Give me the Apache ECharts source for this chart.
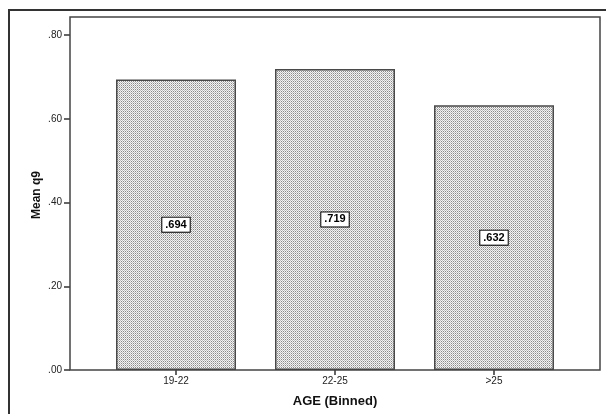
<!DOCTYPE html>
<html>
<head>
<meta charset="utf-8">
<script src="https://cdn.jsdelivr.net/npm/echarts@6/dist/echarts.min.js"></script>
<style>
html,body{margin:0;padding:0;background:#fff;}
#chart{width:606px;height:414px;}
</style>
</head>
<body>
<div id="chart"></div>
<script>
const categories = ['19-22', '22-25', '>25'];
const meanValues = [0.694, 0.719, 0.632];
const yTicks = [0, 0.2, 0.4, 0.6, 0.8];
const yTitle = 'Mean q9';
const xTitle = 'AGE (Binned)';

const FONT = 'Liberation Sans, Arial, sans-serif';

function makePattern() {
  const c = document.createElement('canvas');
  c.width = 2; c.height = 2;
  const ctx = c.getContext('2d');
  ctx.fillStyle = '#f4f4f4';
  ctx.fillRect(0, 0, 2, 2);
  ctx.fillStyle = '#bdbdbd';
  ctx.fillRect(0, 0, 1, 1);
  ctx.fillStyle = '#8a8a8a';
  ctx.fillRect(1, 1, 1, 1);
  return c;
}

const fmt2 = v => v.toFixed(2).replace(/^0/, '');
const fmt3 = v => v.toFixed(3).replace(/^0/, '');

const chart = echarts.init(document.getElementById('chart'), null, {renderer: 'canvas', devicePixelRatio: 1});
chart.setOption({
  animation: false,
  backgroundColor: '#fff',
  textStyle: {fontFamily: FONT},
  grid: {left: 96.5, right: 32.5, top: 17, bottom: 44},
  xAxis: {
    type: 'category',
    data: categories,
    name: xTitle,
    nameLocation: 'middle',
    nameGap: 25,
    nameTextStyle: {fontFamily: FONT, fontSize: 13, fontWeight: 'bold', color: '#111'},
    axisLine: {show: false},
    axisTick: {show: true, alignWithLabel: true, length: 5, lineStyle: {color: '#333', width: 1.5}},
    axisLabel: {fontFamily: FONT, fontSize: 10, color: '#222', margin: 6}
  },
  yAxis: {
    type: 'value',
    min: 0,
    max: 0.843,
    interval: 0.2,
    offset: 26.5,
    axisLine: {show: false},
    axisTick: {show: true, length: 6, lineStyle: {color: '#333', width: 1.5}},
    splitLine: {show: false},
    axisLabel: {
      fontFamily: FONT, fontSize: 10, color: '#222', margin: 8,
      showMaxLabel: false,
      formatter: v => (yTicks.some(t => Math.abs(t - v) < 1e-6) ? fmt2(v) : '')
    }
  },
  series: [{
    type: 'bar',
    data: meanValues,
    barWidth: 120,
    itemStyle: {
      color: {image: makePattern(), repeat: 'repeat'},
      borderColor: '#4a4a4a',
      borderWidth: 1.5
    },
    label: {
      show: true,
      position: 'inside',
      formatter: p => fmt3(p.value),
      fontFamily: FONT,
      fontSize: 11,
      fontWeight: 'bold',
      color: '#000',
      backgroundColor: '#fff',
      borderColor: '#000',
      borderWidth: 1,
      padding: [2, 3, 1, 3]
    }
  }],
  graphic: [
    {
      type: 'text', silent: true,
      x: 37, y: 195, rotation: Math.PI / 2,
      style: {
        text: yTitle, fill: '#111',
        font: 'bold 12px ' + FONT,
        textAlign: 'center', textVerticalAlign: 'middle'
      }
    },
    {
      type: 'rect', z: 100, silent: true,
      shape: {x: 70, y: 17, width: 530, height: 353},
      style: {fill: null, stroke: '#444', lineWidth: 1.5}
    },
    {
      type: 'rect', z: 100, silent: true,
      shape: {x: 9, y: 10, width: 620, height: 430},
      style: {fill: null, stroke: '#333', lineWidth: 2}
    }
  ]
});
</script>
</body>
</html>
